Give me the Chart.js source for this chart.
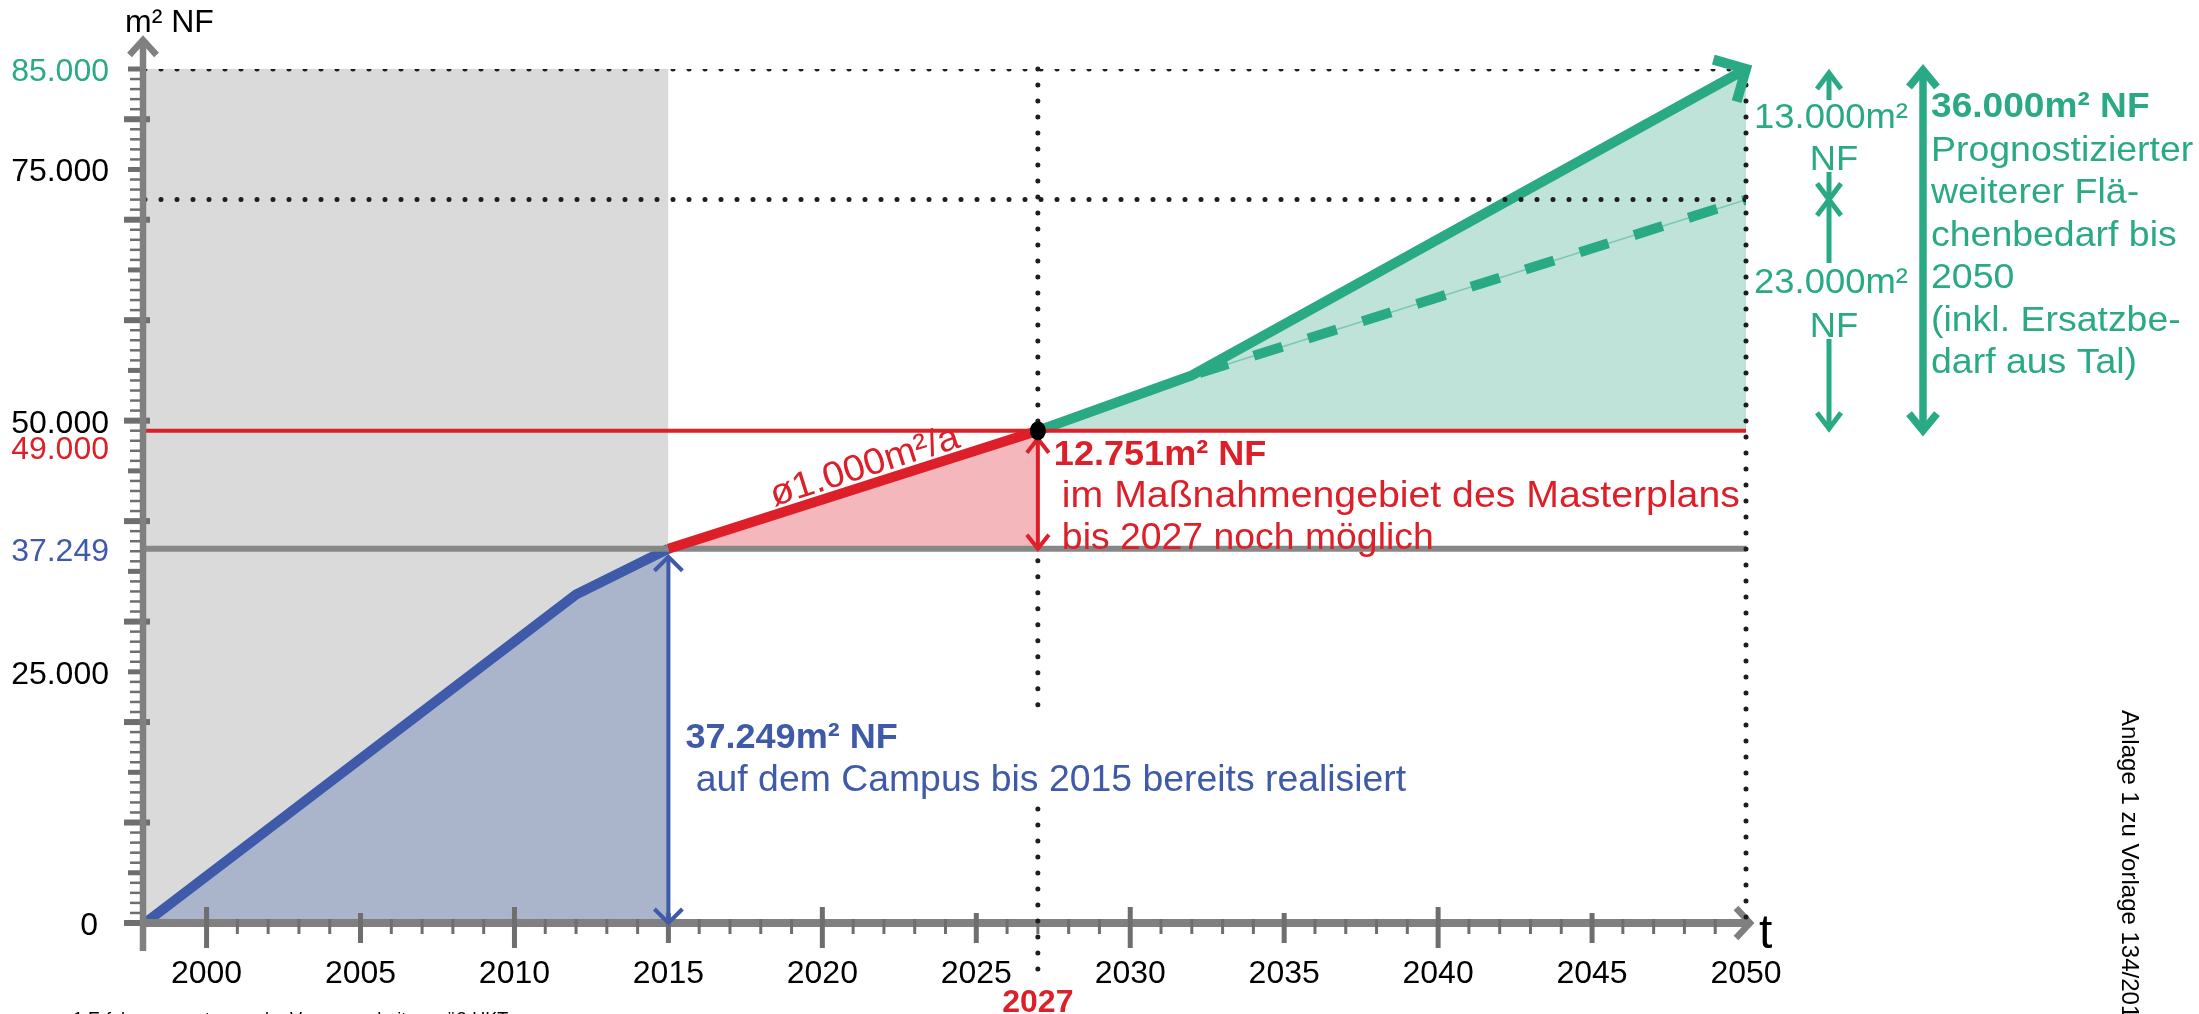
<!DOCTYPE html>
<html>
<head>
<meta charset="utf-8">
<title>Flächenbedarf Campus</title>
<script src="https://cdn.jsdelivr.net/npm/chart.js@4.4.1/dist/chart.umd.min.js"></script>
<style>
  html, body { margin: 0; padding: 0; background: #fff; }
  canvas { display: block; }
</style>
</head>
<body>
<canvas id="flaechen" width="2199" height="1014"></canvas>
<script>
// --- data ---
const xTickYears = [2000, 2005, 2010, 2015, 2020, 2025, 2030, 2035, 2040, 2045, 2050];
const yTickValues = [85000, 75000, 50000, 49000, 37249, 25000, 0];
const yTickLabels = ['85.000', '75.000', '50.000', '49.000', '37.249', '25.000', '0'];

const historyYears = [1998, 2015];          // grey band (past)
const blueYears = [1998, 2012, 2015];
const blueValues = [0, 32700, 37249];
const redYears = [2015, 2027];
const redValues = [37249, 49000];
const greenYears = [2027, 2032, 2050];
const greenValues = [49000, 54500, 85000];
const dashYears = [2032, 2050];
const dashValues = [54500, 72000];

const realised = 37249;     // bis 2015
const possible = 49000;     // bis 2027
const forecastHigh = 85000;
const forecastLow = 72000;
const yearNow = 2027;
const yearEnd = 2050;

// --- styles ---
const FONT = '"Liberation Sans", Arial, Helvetica, sans-serif';
const BLUE = '#3f5aa8', BLUE_FILL = '#aab5cc';
const RED = '#dc1f28', RED_FILL = '#f4b8bc';
const GREEN = '#2aa985', GREEN_FILL = '#bfe3d8';
const AXIS = '#808080', TICK = '#6e6e6e', DOT = '#1e1e1e';
const yLabelColor = { 85000: GREEN, 49000: RED, 37249: BLUE };

const pts = (xs, ys) => xs.map((x, i) => ({ x: x, y: ys[i] }));
const flat = (v) => [{ x: historyYears[0], y: v }, { x: yearEnd, y: v }];

function text(ctx, str, x, y, o) {
    ctx.save();
    ctx.font = o.font;
    ctx.fillStyle = o.color || '#000';
    ctx.textAlign = o.align || 'left';
    ctx.textBaseline = o.baseline || 'alphabetic';
    ctx.translate(x, y);
    if (o.rot) ctx.rotate(o.rot);
    ctx.scale(o.sx || 1, 1);
    ctx.fillText(str, 0, 0);
    ctx.restore();
}

function seg(ctx, x1, y1, x2, y2, color, w) {
    ctx.save();
    ctx.strokeStyle = color; ctx.lineWidth = w; ctx.lineCap = 'butt';
    ctx.beginPath(); ctx.moveTo(x1, y1); ctx.lineTo(x2, y2); ctx.stroke();
    ctx.restore();
}

function dotted(ctx, x1, y1, x2, y2) {
    ctx.save();
    ctx.strokeStyle = DOT; ctx.lineWidth = 5; ctx.lineCap = 'round';
    ctx.setLineDash([0, 16]);
    ctx.beginPath(); ctx.moveTo(x1, y1); ctx.lineTo(x2, y2); ctx.stroke();
    ctx.restore();
}

// chevron with tip at (x, y); dir -1 = pointing up, 1 = pointing down
function head(ctx, x, y, dir, ax, ay, color, w) {
    ctx.save();
    ctx.strokeStyle = color; ctx.lineWidth = w; ctx.lineJoin = 'miter'; ctx.lineCap = 'butt';
    ctx.beginPath();
    ctx.moveTo(x - ax, y - dir * ay); ctx.lineTo(x, y); ctx.lineTo(x + ax, y - dir * ay);
    ctx.stroke();
    ctx.restore();
}

function vArrow(ctx, x, yTop, yBot, color, w, ax, ay) {
    seg(ctx, x, yTop, x, yBot, color, w);
    head(ctx, x, yTop, -1, ax, ay, color, w);
    head(ctx, x, yBot, 1, ax, ay, color, w);
}

const annotations = {
    id: 'annotations',
    afterDatasetsDraw(chart) {
        const ctx = chart.ctx;
        const xs = v => chart.scales.x.getPixelForValue(v);
        const ys = v => chart.scales.y.getPixelForValue(v);
        const ax = chart.chartArea.left - 2;
        const ay = ys(0);
        const xEnd = xs(yearEnd);

        // axes
        for (let v = 0; v <= forecastHigh; v += 1000) {
            if (v % 10000 === 0) seg(ctx, ax - 19, ys(v), ax + 7, ys(v), TICK, 6);
            else if (v % 5000 === 0) seg(ctx, ax - 15, ys(v), ax + 3, ys(v), TICK, 5);
            else seg(ctx, ax - 13, ys(v), ax + 1, ys(v), TICK, 2.5);
        }
        seg(ctx, ax, ay + 28, ax, 40, AXIS, 6.5);
        head(ctx, ax, 40, -1, 13.5, 15, AXIS, 6.5);
        seg(ctx, ax, ay, xEnd + 4, ay, AXIS, 8);
        ctx.save();
        ctx.strokeStyle = AXIS; ctx.lineWidth = 6.5;
        ctx.beginPath(); ctx.moveTo(xEnd - 10, ay - 15); ctx.lineTo(xEnd + 4, ay); ctx.lineTo(xEnd - 10, ay + 15); ctx.stroke();
        ctx.restore();
        for (let yr = 2000; yr < yearEnd; yr++) {
            const x = xs(yr);
            if (yr % 10 === 0) seg(ctx, x, ay - 16, x, ay + 25, TICK, 5);
            else if (yr % 5 === 0) seg(ctx, x, ay - 10, x, ay + 20, TICK, 5);
            else seg(ctx, x, ay - 4, x, ay + 11, TICK, 3);
        }

        // dotted verticals
        const xNow = xs(yearNow);
        const blueBase1 = 748, blueBase2 = 791;
        dotted(ctx, xNow, ys(forecastHigh), xNow, ys(possible));
        dotted(ctx, xNow, ys(realised) + 12, xNow, blueBase1 - 36);
        dotted(ctx, xNow, blueBase2 + 18, xNow, ay + 62);
        dotted(ctx, xEnd, ys(forecastHigh), xEnd, ay);

        // measurement arrows
        vArrow(ctx, xs(2015), ys(realised) + 8, ay, BLUE, 4, 14, 14);
        vArrow(ctx, xNow, ys(possible) + 8, ys(realised), RED, 4, 11, 14);

        // green arrow head at the end of the forecast
        const n = greenYears.length;
        const px = xs(greenYears[n - 1]), py = ys(greenValues[n - 1]);
        const ang = Math.atan2(py - ys(greenValues[n - 2]), px - xs(greenYears[n - 2]));
        ctx.save();
        ctx.strokeStyle = GREEN; ctx.lineWidth = 10; ctx.lineJoin = 'miter';
        ctx.beginPath();
        ctx.moveTo(px + 34 * Math.cos(ang + Math.PI - Math.PI / 4), py + 34 * Math.sin(ang + Math.PI - Math.PI / 4));
        ctx.lineTo(px, py);
        ctx.lineTo(px + 34 * Math.cos(ang + Math.PI + Math.PI / 4), py + 34 * Math.sin(ang + Math.PI + Math.PI / 4));
        ctx.stroke();
        ctx.restore();

        // right hand green arrows
        const xa = xEnd + 83, xb = xEnd + 177;
        vArrow(ctx, xa, ys(forecastHigh) + 4, ys(forecastLow), GREEN, 5, 12, 16);
        vArrow(ctx, xa, ys(forecastLow), ys(possible) - 2, GREEN, 5, 12, 16);
        vArrow(ctx, xb, ys(forecastHigh) + 1, ys(possible), GREEN, 7.5, 14, 17);
        ctx.fillStyle = '#fff';
        ctx.fillRect(xa - 6, 100, 12, 72);
        ctx.fillRect(xa - 6, 263, 12, 76);

        // 2027 point
        ctx.save();
        ctx.fillStyle = '#000';
        ctx.beginPath(); ctx.ellipse(xNow, ys(possible), 8, 9.5, 0, 0, Math.PI * 2); ctx.fill();
        ctx.restore();

        // axis labels
        yTickValues.forEach((v, i) => {
            const x = v === 0 ? ax - 45 : ax - 34;
            const y = ys(v) + (v === possible ? 28 : 12);
            text(ctx, yTickLabels[i], x, y, { font: '32px ' + FONT, color: yLabelColor[v] || '#000', align: 'right' });
        });
        xTickYears.forEach(yr => {
            text(ctx, String(yr), xs(yr), 983, { font: '32px ' + FONT, align: 'center' });
        });
        text(ctx, String(yearNow), xNow, 1012, { font: 'bold 32px ' + FONT, color: RED, align: 'center' });
        text(ctx, 'm² NF', ax - 18, 32, { font: '32px ' + FONT });
        text(ctx, 't', xEnd + 13, 948, { font: '48px ' + FONT });

        // red notes
        const r1 = xs(redYears[0]), r2 = xs(redYears[1]);
        const q1 = ys(redValues[0]), q2 = ys(redValues[1]);
        const rAng = Math.atan2(q2 - q1, r2 - r1);
        const mx = (r1 + r2) / 2, my = (q1 + q2) / 2;
        const nx = Math.sin(rAng), ny = -Math.cos(rAng);
        text(ctx, 'ø1.000m²/a', mx + 18 * Math.cos(rAng) + 8 * nx, my + 18 * Math.sin(rAng) + 8 * ny,
            { font: '37px ' + FONT, color: RED, align: 'center', rot: rAng, sx: 1.04 });
        text(ctx, '12.751m² NF', xNow + 16, ys(possible) + 34, { font: 'bold 35px ' + FONT, color: RED, sx: 1.03 });
        text(ctx, 'im Maßnahmengebiet des Masterplans', xNow + 24, ys(possible) + 76, { font: '37px ' + FONT, color: RED, sx: 1.06 });
        text(ctx, 'bis 2027 noch möglich', xNow + 24, ys(possible) + 118, { font: '37px ' + FONT, color: RED, sx: 1.01 });

        // blue notes
        text(ctx, '37.249m² NF', xs(2015) + 17, blueBase1, { font: 'bold 35px ' + FONT, color: BLUE, sx: 1.03 });
        text(ctx, ' auf dem Campus bis 2015 bereits realisiert', xs(2015) + 17, blueBase2, { font: '37px ' + FONT, color: BLUE, sx: 1.01 });

        // green notes
        const gf = { font: '35px ' + FONT, color: GREEN, align: 'center', sx: 1.04 };
        text(ctx, '13.000m²', xa + 2, 128, gf);
        text(ctx, 'NF', xa + 5, 170, gf);
        text(ctx, '23.000m²', xa + 2, 293, gf);
        text(ctx, 'NF', xa + 5, 337, gf);
        text(ctx, '36.000m² NF', xb + 8, 117, { font: 'bold 35px ' + FONT, color: GREEN, sx: 1.06 });
        const greenNote = ['Prognostizierter', 'weiterer Flä-', 'chenbedarf bis', '2050', '(inkl. Ersatzbe-', 'darf aus Tal)'];
        greenNote.forEach((s, i) => {
            text(ctx, s, xb + 8, 161 + i * 42.4, { font: '35px ' + FONT, color: GREEN, sx: 1.07 });
        });

        // page furniture
        text(ctx, '1 Erfahrungswerte aus der Vergangenheit gemäß UKT', 73, 1011, { font: '18px ' + FONT, baseline: 'top' });
        text(ctx, 'Anlage 1 zu Vorlage 134/2017', 2129, 710, { font: '24px ' + FONT, baseline: 'middle', rot: Math.PI / 2 });
    }
};

new Chart(document.getElementById('flaechen'), {
    type: 'line',
    data: {
        datasets: [
            { data: pts(historyYears, [forecastHigh, forecastHigh]), fill: 'origin', backgroundColor: '#dadada', borderColor: 'transparent', borderWidth: 0, order: 10 },
            { data: pts(blueYears, blueValues), fill: 'origin', backgroundColor: BLUE_FILL, borderColor: BLUE, borderWidth: 10, order: 8 },
            { data: flat(realised), fill: false, borderColor: '#878787', borderWidth: 6, order: 7 },
            { data: pts(greenYears, greenValues), fill: { value: possible }, backgroundColor: GREEN_FILL, borderColor: GREEN, borderWidth: 10, order: 6 },
            { data: flat(possible), fill: false, borderColor: RED, borderWidth: 4, order: 5 },
            { data: pts(redYears, redValues), fill: { value: realised }, backgroundColor: RED_FILL, borderColor: RED, borderWidth: 10, order: 4 },
            { data: pts(dashYears, dashValues), fill: false, borderColor: 'rgba(42,169,133,0.45)', borderWidth: 1.5, order: 3 },
            { data: pts(dashYears, dashValues), fill: false, borderColor: GREEN, borderWidth: 10, borderDash: [30, 27], borderDashOffset: -8, order: 2 },
            { data: flat(forecastHigh), fill: false, borderColor: DOT, borderWidth: 5, borderDash: [0, 16], borderCapStyle: 'round', order: 1 },
            { data: flat(forecastLow), fill: false, borderColor: DOT, borderWidth: 5, borderDash: [0, 16], borderCapStyle: 'round', order: 1 }
        ]
    },
    options: {
        responsive: false,
        animation: false,
        devicePixelRatio: 1,
        layout: { padding: { left: 145, right: 453, top: 69, bottom: 91 } },
        scales: {
            x: { type: 'linear', min: 1998, max: yearEnd, display: false },
            y: { type: 'linear', min: 0, max: forecastHigh, display: false }
        },
        elements: { point: { radius: 0 }, line: { tension: 0 } },
        plugins: { legend: { display: false }, tooltip: { enabled: false }, filler: { drawTime: 'beforeDatasetsDraw' } }
    },
    plugins: [annotations]
});
</script>
</body>
</html>
